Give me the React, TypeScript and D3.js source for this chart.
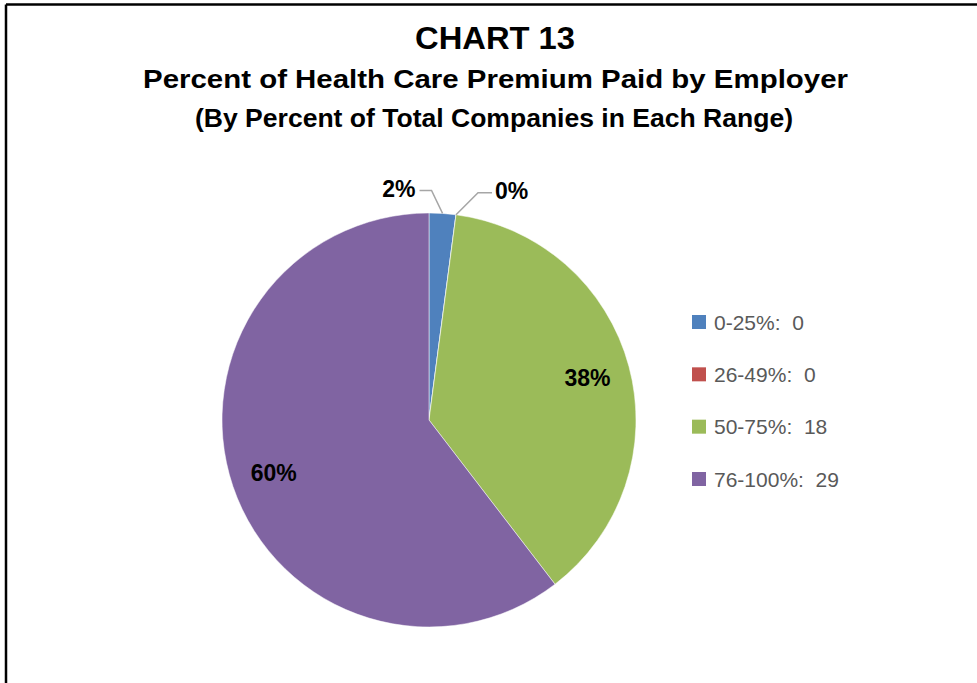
import React from 'react';
import * as d3 from 'd3';

// Chart data
const categories = ['0-25%', '26-49%', '50-75%', '76-100%'];
const sliceValues = [1, 0, 18, 29];
const legendCounts = [0, 0, 18, 29];
const sliceColors = ['#4F81BD', '#C0504D', '#9BBB59', '#8064A2'];
const titleLines = [
  'CHART 13',
  'Percent of Health Care Premium Paid by Employer',
  '(By Percent of Total Companies in Each Range)',
];

const W = 977;
const H = 683;
const cx = 429;
const cy = 420;
const radius = 207;

const font = "'Liberation Sans', Arial, sans-serif";

const App = () => {
  const pie = d3.pie<number>().sort(null).value(d => d);
  const arcs = pie(sliceValues);
  const total = d3.sum(sliceValues);

  const arc = d3.arc<d3.PieArcDatum<number>>().innerRadius(0).outerRadius(radius);
  const labelArc = d3.arc<d3.PieArcDatum<number>>().innerRadius(164).outerRadius(164);

  const pct = (v: number) => `${Math.round((v / total) * 100)}%`;

  // point on the rim for a given angle (0 = 12 o'clock, clockwise)
  const rim = (a: number, r: number) => [Math.sin(a) * r, -Math.cos(a) * r];

  // legend layout
  const legendY = d3.scalePoint<string>().domain(categories).range([322, 479]);

  return (
    <svg
      width={W}
      height={H}
      style={{ position: 'absolute', left: 0, top: 0, background: '#fff' }}
    >
      <rect x={0} y={0} width={W} height={H} fill="#fff" />
      {/* frame */}
      <line x1={6} y1={4.5} x2={W} y2={4.5} stroke="#000" strokeWidth={2.5} />
      <line x1={6} y1={4.5} x2={6} y2={H} stroke="#000" strokeWidth={2.5} />

      {/* titles */}
      <text x={495} y={49} textAnchor="middle" fontFamily={font} fontWeight="bold"
        fontSize={32} textLength={160} lengthAdjust="spacingAndGlyphs">{titleLines[0]}</text>
      <text x={495.5} y={88} textAnchor="middle" fontFamily={font} fontWeight="bold"
        fontSize={26.5} textLength={705} lengthAdjust="spacingAndGlyphs">{titleLines[1]}</text>
      <text x={494} y={127} textAnchor="middle" fontFamily={font} fontWeight="bold"
        fontSize={26} textLength={598} lengthAdjust="spacingAndGlyphs">{titleLines[2]}</text>

      {/* pie */}
      <g transform={`translate(${cx},${cy})`}>
        {arcs.map((a, i) => (
          <path key={categories[i]} d={arc(a) || ''} fill={sliceColors[i]}
            stroke="#fff" strokeWidth={0.5} />
        ))}

        {/* inside labels for big slices */}
        {arcs.map((a, i) => {
          if (sliceValues[i] / total < 0.1) return null;
          const [lx, ly] = labelArc.centroid(a);
          return (
            <text key={'l' + i} x={lx} y={ly} dy="0.36em" textAnchor="middle"
              fontFamily={font} fontWeight="bold" fontSize={23} fill="#000">
              {pct(sliceValues[i])}
            </text>
          );
        })}

        {/* outside labels with leader lines for small slices */}
        {arcs.map((a, i) => {
          if (sliceValues[i] / total >= 0.1) return null;
          const mid = (a.startAngle + a.endAngle) / 2;
          const [px, py] = rim(mid, radius);
          const left = i === 0;
          const elbowX = left ? px - 11 : px + 22;
          const elbowY = left ? py - 23 : py - 22;
          const endX = left ? elbowX - 12 : elbowX + 14;
          return (
            <g key={'o' + i}>
              <polyline
                points={`${px},${py} ${elbowX},${elbowY} ${endX},${elbowY}`}
                fill="none" stroke="#A6A6A6" strokeWidth={1.5} />
              <text x={left ? endX - 4 : endX + 3} y={elbowY - 2} dy="0.36em"
                textAnchor={left ? 'end' : 'start'} fontFamily={font}
                fontWeight="bold" fontSize={23} fill="#000">
                {pct(sliceValues[i])}
              </text>
            </g>
          );
        })}
      </g>

      {/* legend */}
      {categories.map((c, i) => {
        const y = legendY(c) || 0;
        return (
          <g key={'lg' + c}>
            <rect x={692} y={y - 7} width={14} height={14} fill={sliceColors[i]} />
            <text x={714} y={y} dy="0.36em" fontFamily={font} fontSize={21} fill="#595959">
              {`${c}:\u00a0\u00a0${legendCounts[i]}`}
            </text>
          </g>
        );
      })}
    </svg>
  );
};

export default App;
